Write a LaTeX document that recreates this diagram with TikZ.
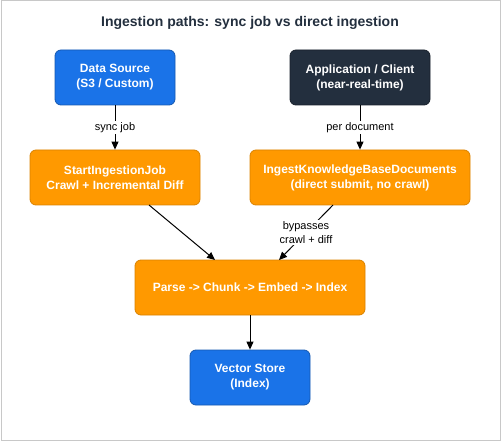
\documentclass[tikz,border=0pt]{standalone}
\usepackage{fontspec}
\setmainfont{Liberation Sans}
\usetikzlibrary{arrows.meta}
\definecolor{awsblue}{HTML}{1A73E8}
\definecolor{awsblueb}{HTML}{1558B0}
\definecolor{awsdark}{HTML}{232F3E}
\definecolor{awsdarkb}{HTML}{18202B}
\definecolor{awsorange}{HTML}{FF9900}
\definecolor{awsorangeb}{HTML}{D98200}
\definecolor{frame}{HTML}{C8C8C8}
\tikzset{
  box/.style={draw, rounded corners=6pt, line width=0.8pt, align=center, text=white,
    font=\fontsize{12}{15}\selectfont\bfseries, inner sep=0pt},
  bluebox/.style={box, fill=awsblue, draw=awsblueb},
  darkbox/.style={box, fill=awsdark, draw=awsdarkb},
  orangebox/.style={box, fill=awsorange, draw=awsorangeb},
  conn/.style={-{Triangle[length=8pt,width=7pt]}, line width=1pt, black},
  lbl/.style={font=\fontsize{11}{14}\selectfont, fill=white, inner sep=1.5pt, align=center, text=black}
}
\begin{document}
\begin{tikzpicture}[x=1pt,y=-1pt]
\useasboundingbox (0,0) rectangle (501,441);
\draw[frame, line width=1pt] (1,1) rectangle (500,440);
\node[font=\fontsize{14}{17}\selectfont\bfseries, text=awsdark] (title) at (250,23) {Ingestion paths: sync job vs direct ingestion};
\node[bluebox, minimum width=120pt, minimum height=55pt] (ds) at (115,77.5) {Data Source\\(S3 / Custom)};
\node[darkbox, minimum width=140pt, minimum height=55pt] (app) at (360,77.5) {Application / Client\\(near-real-time)};
\node[orangebox, minimum width=170pt, minimum height=55pt] (sij) at (115,177.5) {StartIngestionJob\\Crawl + Incremental Diff};
\node[orangebox, minimum width=220pt, minimum height=55pt] (ikbd) at (360,177.5) {IngestKnowledgeBaseDocuments\\(direct submit, no crawl)};
\node[orangebox, minimum width=230pt, minimum height=55pt] (parse) at (250,287.5) {Parse -> Chunk -> Embed -> Index};
\node[bluebox, minimum width=120pt, minimum height=55pt] (vs) at (250,377.5) {Vector Store\\(Index)};
\draw[conn] (ds.south) -- node[lbl] (l1) {sync job} (sij.north);
\draw[conn] (app.south) -- node[lbl] (l2) {per document} (ikbd.north);
\coordinate (a1) at (149,205);
\coordinate (a2) at (215,260);
\draw[conn] (a1) -- (a2);
\coordinate (b1) at (333,205);
\coordinate (b2) at (279,260);
\draw[conn] (b1) -- node[lbl, pos=0.5] (l3) {bypasses\\crawl + diff} (b2);
\draw[conn] (parse.south) -- (vs.north);
\end{tikzpicture}
\end{document}
